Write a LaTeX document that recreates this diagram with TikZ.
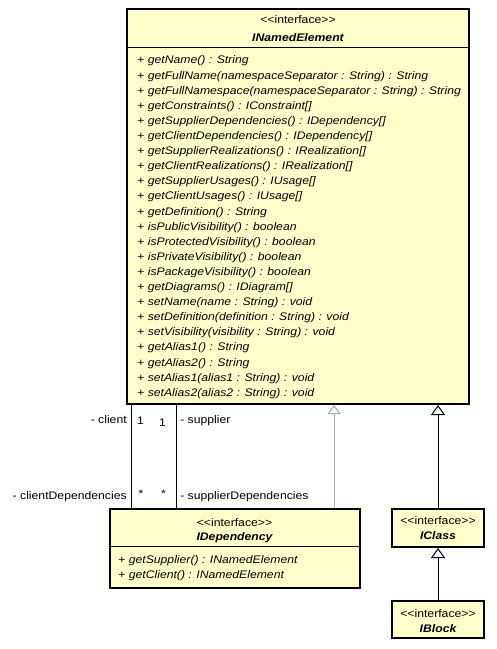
\documentclass[tikz,border=0pt]{standalone}
\usepackage{fontspec}
\setmainfont{Liberation Sans}[FakeStretch=1.11]
\usetikzlibrary{arrows.meta,fit}
\definecolor{ifacefill}{HTML}{FFFFCC}
\definecolor{realgray}{HTML}{A8A8A8}
\newcommand{\umlfont}{\fontsize{8.25pt}{10pt}\selectfont}
\newcommand{\ifacetag}{<\kern0pt<interface>\kern0pt>}
\tikzset{
    iface/.style={
    rectangle,draw=black,line width=1.5pt,fill=ifacefill,inner sep=0pt
    },
    stereo/.style={
    anchor=base,inner sep=0pt,font=\umlfont
    },
    cname/.style={
    anchor=base,inner sep=0pt,font=\umlfont\bfseries\itshape
    },
    member/.style={
    anchor=base west,inner sep=0pt,font=\umlfont
    },
    roleleft/.style={
    anchor=base east,inner sep=0pt,font=\umlfont
    },
    roleright/.style={
    anchor=base west,inner sep=0pt,font=\umlfont
    },
    mult/.style={
    anchor=base,inner sep=0pt,font=\umlfont
    },
    assoc/.style={
    draw=black,line width=0.75pt
    },
    realize/.style={
    draw=realgray,line width=0.75pt,-{Triangle[open,length=6.75pt,width=9.75pt]}
    },
    generalize/.style={
    draw=black,line width=0.75pt,-{Triangle[open,length=7.5pt,width=10.5pt]}
    },
}

\begin{document}
\begin{tikzpicture}[x=0.75pt,y=-0.75pt]
   \useasboundingbox (0,0) rectangle (496,649);

   % boxes
   \node[iface,fit={(127,9) (469,404)}] (ine) {};
   \node[iface,fit={(109.5,509) (359.5,588)}] (dep) {};
   \node[iface,fit={(392,509) (484,547)}] (cls) {};
   \node[iface,fit={(392,601) (484,638)}] (blk) {};
   \draw[line width=0.75pt] (127,47.5) -- (469,47.5);
   \draw[line width=0.75pt] (109.5,546.5) -- (359.5,546.5);

   % INamedElement
   \node[stereo] (ine-st) at (298,23.3) {\ifacetag};
   \node[cname] (ine-name) at (298,41.3) {INamedElement};
   \foreach \meth [count=\i] in {
      {getName() : String},
      {getFullName(namespaceSeparator : String) : String},
      {getFullNamespace(namespaceSeparator : String) : String},
      {getConstraints() : IConstraint[]},
      {getSupplierDependencies() : IDependency[]},
      {getClientDependencies() : IDependency[]},
      {getSupplierRealizations() : IRealization[]},
      {getClientRealizations() : IRealization[]},
      {getSupplierUsages() : IUsage[]},
      {getClientUsages() : IUsage[]},
      {getDefinition() : String},
      {isPublicVisibility() : boolean},
      {isProtectedVisibility() : boolean},
      {isPrivateVisibility() : boolean},
      {isPackageVisibility() : boolean},
      {getDiagrams() : IDiagram[]},
      {setName(name : String) : void},
      {setDefinition(definition : String) : void},
      {setVisibility(visibility : String) : void},
      {getAlias1() : String},
      {getAlias2() : String},
      {setAlias1(alias1 : String) : void},
      {setAlias2(alias2 : String) : void}}
      \node[member] (ine-m\i) at (137,64+15.1*\i-15.1) {+ \textit{\meth}};

   % IDependency
   \node[stereo] (dep-st) at (234.5,526) {\ifacetag};
   \node[cname] (dep-name) at (234.5,540.5) {IDependency};
   \node[member] (dep-m1) at (118,563) {+ \textit{getSupplier() : INamedElement}};
   \node[member] (dep-m2) at (118,578.5) {+ \textit{getClient() : INamedElement}};

   % IClass, IBlock
   \node[stereo] (cls-st) at (438,524.5) {\ifacetag};
   \node[cname] (cls-name) at (438,539.5) {IClass};
   \node[stereo] (blk-st) at (438,617.5) {\ifacetag};
   \node[cname] (blk-name) at (438,632.5) {IBlock};

   % associations
   \coordinate (clx) at (131.5,0);
   \coordinate (spx) at (176,0);
   \coordinate (rzx) at (334,0);
   \draw[assoc] (clx |- ine.south) -- (clx |- dep.north);
   \draw[assoc] (spx |- ine.south) -- (spx |- dep.north);
   \node[roleleft] (cl-role) at (127,423.5) {- client};
   \node[mult] (cl-mult) at (140.5,424) {1};
   \node[mult] (sp-mult) at (162.5,426) {1};
   \node[roleright] (sp-role) at (180,423.5) {- supplier};
   \node[roleleft] (cd-role) at (127,499) {- clientDependencies};
   \node[mult] (cd-mult) at (141,497) {*};
   \node[mult] (sd-mult) at (163.5,497) {*};
   \node[roleright] (sd-role) at (180,499) {- supplierDependencies};

   % realization and generalizations
   \draw[realize] (rzx |- dep.north) -- (rzx |- ine.south);
   \draw[generalize] (cls.north) -- (cls.north |- ine.south);
   \draw[generalize] (blk.north) -- (cls.south);
\end{tikzpicture}
\end{document}
